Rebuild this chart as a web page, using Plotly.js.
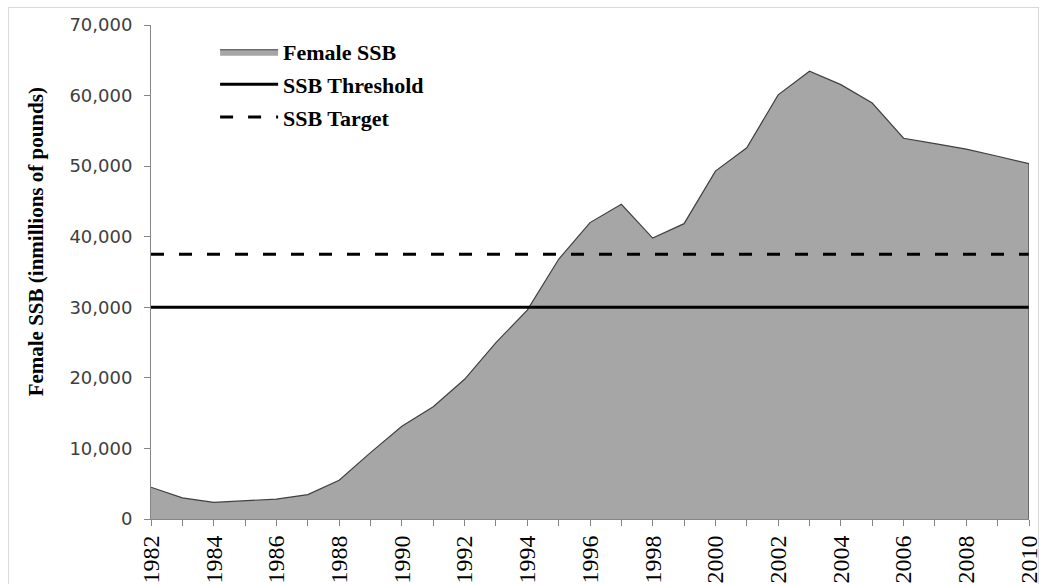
<!DOCTYPE html>
<html>
<head>
<meta charset="utf-8">
<script src="https://cdn.plot.ly/plotly-3.0.1.min.js"></script>
<style>
html,body{margin:0;padding:0;background:#fff;}
#frame{position:absolute;left:8px;top:7px;width:1031px;height:600px;border:1px solid #d9d9d9;box-sizing:border-box;}
#chart{position:absolute;left:0;top:0;width:1042px;height:584px;}
</style>
</head>
<body>
<div id="frame"></div>
<div id="chart"></div>
<script>
const years = [1982,1983,1984,1985,1986,1987,1988,1989,1990,1991,1992,1993,1994,1995,1996,1997,1998,1999,2000,2001,2002,2003,2004,2005,2006,2007,2008,2009,2010];
const femaleSSB = [4500,3000,2350,2600,2830,3450,5500,9400,13150,15900,19800,25000,29600,36800,42000,44600,39800,41850,49300,52600,60100,63450,61550,58950,53950,53200,52400,51400,50350];
const ssbThreshold = 30000;
const ssbTarget = 37500;
const yTicks = [0,10000,20000,30000,40000,50000,60000,70000];
const xTickYears = [1982,1984,1986,1988,1990,1992,1994,1996,1998,2000,2002,2004,2006,2008,2010];

const first = years[0], last = years[years.length-1];

const traces = [
  {
    x: years, y: femaleSSB, type: 'scatter', mode: 'lines', fill: 'tozeroy',
    fillcolor: '#a6a6a6', line: {color: '#404040', width: 1.2},
    name: '<b>Female SSB</b>', legendgroup: 'a', hoverinfo: 'x+y'
  },
  {
    x: [first, last], y: [ssbThreshold, ssbThreshold], type: 'scatter', mode: 'lines',
    line: {color: '#000', width: 3}, name: '<b>SSB Threshold</b>', legendgroup: 'b'
  },
  {
    x: [first, last], y: [ssbTarget, ssbTarget], type: 'scatter', mode: 'lines',
    line: {color: '#000', width: 3, dash: '13px,15px'}, name: '<b>SSB Target</b>', legendgroup: 'c'
  }
];

const layout = {
  width: 1042, height: 584,
  margin: {l: 151, r: 13, t: 25, b: 65, pad: 0},
  paper_bgcolor: 'rgba(0,0,0,0)', plot_bgcolor: '#fff',
  showlegend: true,
  legend: {
    x: 0.073, y: 0.988, xanchor: 'left', yanchor: 'top', itemwidth: 58,
    bgcolor: 'rgba(0,0,0,0)', tracegroupgap: 1,
    font: {family: 'Liberation Serif, Times New Roman, serif', size: 22, color: '#000'}
  },
  xaxis: {
    range: [first, last], tickmode: 'array', tickvals: xTickYears, ticktext: xTickYears.map(String),
    tickangle: -90, ticks: 'outside', ticklen: 6, tickcolor: '#868686', tickwidth: 1,
    showline: true, linecolor: '#868686', linewidth: 1, showgrid: false, zeroline: false,
    tickfont: {family: 'Liberation Serif, Times New Roman, serif', size: 24, color: '#000'},
    minor: {dtick: 1, tick0: first, ticks: 'outside', ticklen: 6, tickcolor: '#868686', showgrid: false}
  },
  yaxis: {
    range: [0, 70000], tickmode: 'array', tickvals: yTicks,
    ticktext: yTicks.map(v => v.toLocaleString('en-US')),
    ticks: 'outside', ticklen: 6, tickcolor: '#868686', ticklabelstandoff: 8,
    showline: true, linecolor: '#868686', linewidth: 1, showgrid: false, zeroline: false,
    tickfont: {family: 'DejaVu Sans, Verdana, sans-serif', size: 18, color: '#404040'}
  },
  annotations: [{
    text: '<b>Female SSB (inmillions of pounds)</b>', xref: 'paper', yref: 'paper',
    x: -0.131, y: 0.562, xanchor: 'center', yanchor: 'middle', textangle: -90, showarrow: false,
    font: {family: 'Liberation Serif, Times New Roman, serif', size: 21, color: '#000'}
  }],
  shapes: [{
    type: 'line', xref: 'x', yref: 'y', x0: last, x1: last, y0: 0, y1: femaleSSB[femaleSSB.length-1],
    line: {color: '#404040', width: 1.2}
  }]
};

Plotly.newPlot('chart', traces, layout, {staticPlot: true, displayModeBar: false});
</script>
</body>
</html>
